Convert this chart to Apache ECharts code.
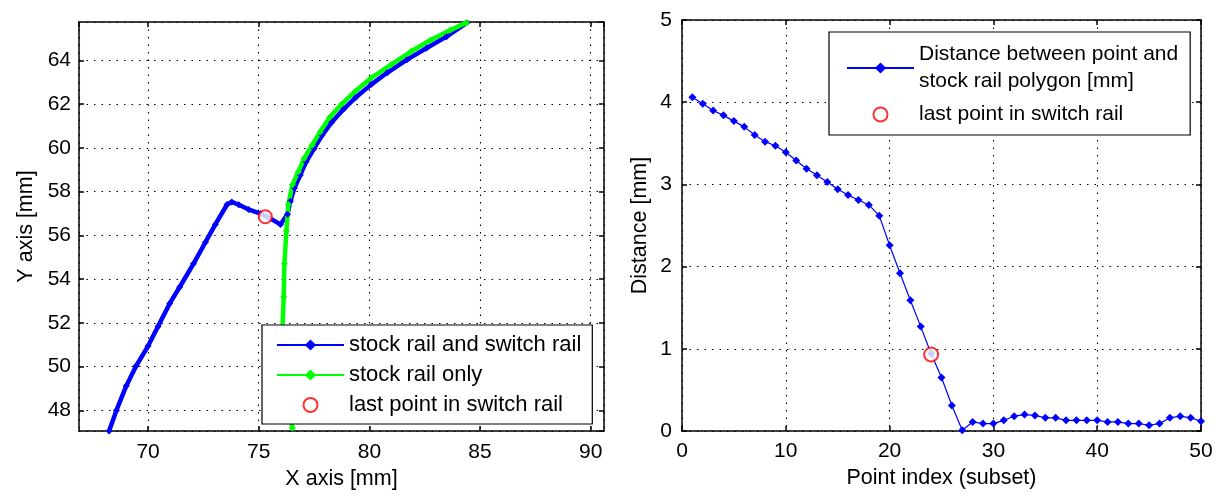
<!DOCTYPE html>
<html>
<head>
<meta charset="utf-8">
<script src="https://cdn.jsdelivr.net/npm/echarts@6/dist/echarts.min.js"></script>
<style>
  html, body { margin: 0; padding: 0; background: #fff; }
  #chart { width: 1218px; height: 495px; }
</style>
</head>
<body>
<div id="chart"></div>
<script>
// left plot: rail points [mm]
const blueX = [68.24, 68.57, 69.02, 69.46, 70.0, 70.45, 70.98, 71.43, 72.05, 72.59, 73.04, 73.57, 73.78,
  74.1, 74.55, 75.09, 75.45, 75.98, 76.3, 76.43, 76.61, 76.88, 77.14, 77.5, 77.86, 78.3, 78.84, 79.38,
  80.09, 80.8, 81.7, 82.59, 83.48, 84.5];
const blueY = [47.06, 48.0, 49.13, 50.03, 50.94, 51.84, 52.89, 53.64, 54.7, 55.68, 56.5, 57.41, 57.53,
  57.4, 57.18, 56.99, 56.81, 56.5, 56.96, 57.56, 58.16, 58.76, 59.36, 59.97, 60.57, 61.17, 61.77, 62.3,
  62.9, 63.43, 64.03, 64.56, 65.08, 65.78];
const greenX = [76.52, 76.43, 76.25, 76.16, 76.07, 76.13, 76.16, 76.25, 76.34, 76.52, 76.79, 77.05,
  77.41, 77.77, 78.21, 78.75, 79.38, 80.09, 80.98, 81.88, 82.77, 83.66, 84.38];
const greenY = [47.2, 47.93, 48.98, 50.18, 51.69, 53.19, 54.7, 56.2, 57.41, 58.31, 58.91, 59.51,
  60.12, 60.72, 61.4, 62.0, 62.6, 63.2, 63.8, 64.4, 64.93, 65.38, 65.72];
const lastPointLeft = [75.3, 56.85];

// right plot: distance per point index
const pointIndex = [1, 2, 3, 4, 5, 6, 7, 8, 9, 10, 11, 12, 13, 14, 15, 16, 17, 18, 19, 20, 21, 22, 23, 24, 25,
  26, 27, 28, 29, 30, 31, 32, 33, 34, 35, 36, 37, 38, 39, 40, 41, 42, 43, 44, 45, 46, 47, 48, 49, 50];
const distance = [4.06, 3.98, 3.90, 3.84, 3.77, 3.70, 3.60, 3.52, 3.47, 3.39, 3.29, 3.19, 3.11, 3.03, 2.94,
  2.87, 2.81, 2.75, 2.62, 2.26, 1.92, 1.59, 1.27, 0.94, 0.65, 0.31, 0.01, 0.11, 0.09, 0.09, 0.13, 0.18,
  0.20, 0.19, 0.16, 0.16, 0.13, 0.13, 0.13, 0.13, 0.11, 0.11, 0.09, 0.09, 0.07, 0.09, 0.16, 0.18, 0.16, 0.12];
const lastPointRight = [24, 0.93];

const leftXRange = [66.88, 90.6];
const leftYRange = [47.06, 65.75];

const FONT = 'Liberation Sans, Arial, sans-serif';
const nameStock = 'stock rail and switch rail';
const nameOnly = 'stock rail only';
const nameLast = 'last point in switch rail';
const nameDist = 'Distance between point and\nstock rail polygon [mm]';

const chart = echarts.init(document.getElementById('chart'));

const gridLine = { show: true, lineStyle: { color: '#000', type: [1.5, 6], width: 1.1 } };
const labelStyle = { color: '#000', fontSize: 21, fontFamily: FONT, margin: 10 };

function mainAxis(gridIndex, position, range, extra) {
  return Object.assign({
    type: 'value', gridIndex, position,
    min: range[0], max: range[1],
    axisLine: { show: true, onZero: false, lineStyle: { color: '#000', width: 1.5 } },
    axisTick: { show: true, inside: true, length: 5, lineStyle: { color: '#000', width: 1.5 } },
    axisLabel: labelStyle,
    splitLine: gridLine,
    nameLocation: 'middle',
    nameTextStyle: { color: '#000', fontSize: 21.5, fontFamily: FONT }
  }, extra);
}

function mirrorAxis(gridIndex, position, range, extra) {
  return Object.assign({
    type: 'value', gridIndex, position,
    min: range[0], max: range[1],
    axisLine: { show: true, onZero: false, lineStyle: { color: '#000', width: 1.5 } },
    axisTick: { show: true, inside: true, length: 5, lineStyle: { color: '#000', width: 1.5 } },
    axisLabel: { show: false },
    splitLine: { show: false }
  }, extra);
}

const option = {
  animation: false,
  backgroundColor: '#fff',
  grid: [
    { left: 79, top: 22, width: 525, height: 413 },
    { left: 682, top: 20, width: 519, height: 411 }
  ],
  xAxis: [
    mainAxis(0, 'bottom', leftXRange, {
      splitNumber: 5, name: 'X axis [mm]', nameGap: 37,
      axisLabel: Object.assign({}, labelStyle, { margin: 11, showMinLabel: false, showMaxLabel: false })
    }),
    mirrorAxis(0, 'top', leftXRange, { splitNumber: 5 }),
    mainAxis(1, 'bottom', [0, 50], { interval: 10, name: 'Point index (subset)', nameGap: 36 }),
    mirrorAxis(1, 'top', [0, 50], { interval: 10 })
  ],
  yAxis: [
    mainAxis(0, 'left', leftYRange, {
      splitNumber: 9, name: 'Y axis [mm]', nameGap: 42,
      axisLabel: Object.assign({}, labelStyle, { margin: 8, showMinLabel: false, showMaxLabel: false })
    }),
    mirrorAxis(0, 'right', leftYRange, { splitNumber: 9 }),
    mainAxis(1, 'left', [0, 5], { interval: 1, name: 'Distance [mm]', nameGap: 31 }),
    mirrorAxis(1, 'right', [0, 5], { interval: 1 })
  ],
  legend: [
    {
      orient: 'vertical', left: 262, top: 325,
      data: [nameStock, nameOnly, nameLast],
      backgroundColor: '#fff', borderColor: '#000', borderWidth: 1.2, borderRadius: 0,
      padding: [9, 11, 8, 14], itemGap: 8, itemWidth: 67, itemHeight: 14,
      selectedMode: false,
      textStyle: { color: '#000', fontSize: 22, fontFamily: FONT, lineHeight: 22 }
    },
    {
      orient: 'vertical', left: 829, top: 32,
      data: [nameDist, nameLast],
      backgroundColor: '#fff', borderColor: '#000', borderWidth: 1.2, borderRadius: 0,
      padding: [9, 12, 7, 17], itemGap: 6, itemWidth: 67, itemHeight: 14,
      selectedMode: false,
      textStyle: { color: '#000', fontSize: 21, fontFamily: FONT, lineHeight: 27 }
    }
  ],
  series: [
    {
      name: nameStock, type: 'line', xAxisIndex: 0, yAxisIndex: 0,
      data: blueX.map((x, i) => [x, blueY[i]]),
      symbol: 'diamond', symbolSize: 7, showAllSymbol: true,
      lineStyle: { color: '#0000ff', width: 4.5 },
      itemStyle: { color: '#0000ff' }
    },
    {
      name: nameOnly, type: 'line', xAxisIndex: 0, yAxisIndex: 0,
      data: greenX.map((x, i) => [x, greenY[i]]),
      symbol: 'diamond', symbolSize: 7, showAllSymbol: true,
      lineStyle: { color: '#00ff00', width: 4.5 },
      itemStyle: { color: '#00ff00' }
    },
    {
      name: nameLast, type: 'scatter', xAxisIndex: 0, yAxisIndex: 0,
      data: [lastPointLeft],
      symbol: 'emptyCircle', symbolSize: 13, symbolKeepAspect: true,
      itemStyle: { color: '#ff0000', borderColor: '#ff0000', borderWidth: 1.2 },
      z: 5
    },
    {
      name: nameDist, type: 'line', xAxisIndex: 2, yAxisIndex: 2,
      data: pointIndex.map((p, i) => [p, distance[i]]),
      symbol: 'diamond', symbolSize: 8, showAllSymbol: true,
      lineStyle: { color: '#0000ff', width: 1.2 },
      itemStyle: { color: '#0000ff' }
    },
    {
      name: nameLast, type: 'scatter', xAxisIndex: 2, yAxisIndex: 2,
      data: [lastPointRight],
      symbol: 'emptyCircle', symbolSize: 14, symbolKeepAspect: true,
      itemStyle: { color: '#ff0000', borderColor: '#ff0000', borderWidth: 1.2 },
      z: 5
    }
  ]
};

chart.setOption(option);
</script>
</body>
</html>
